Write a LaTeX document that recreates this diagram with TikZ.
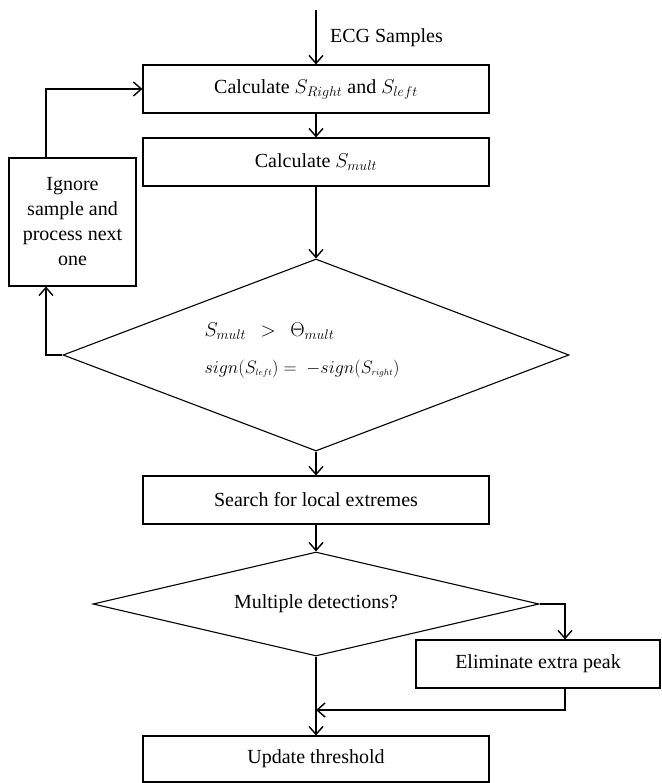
\documentclass[tikz,border=0pt]{standalone}
\usepackage{fix-cm}
\usepackage{fontspec}
\setmainfont{Liberation Serif}
\usetikzlibrary{shapes.geometric,arrows.meta}

\begin{document}
\begin{tikzpicture}[x=1pt,y=-1pt,
    font=\fontsize{20}{25}\selectfont,
    box/.style={draw,line width=1.1pt,minimum width=346pt,minimum height=48pt,inner sep=0pt},
    decision/.style={draw,diamond,line width=1.1pt,inner sep=0pt},
    arr/.style={line width=1.4pt,-{Straight Barb[length=8pt,width=14pt]}}]
    \useasboundingbox (0,0) rectangle (661,783);
    \node[box] (calc) at (316,89) {Calculate $S_{Right}$ and $S_{left}$};
    \node[box] (mult) at (316,162) {Calculate $S_{mult}$};
    \node[box,minimum width=127pt,minimum height=128pt,align=center] (ignore) at (72.5,222)
      {Ignore\\sample and\\process next\\one};
    \node[decision,shape aspect=2.64,minimum width=506pt,minimum height=192pt] (check) at (316,355) {};
    \node[align=left] (cond) at ([xshift=-14pt,yshift=5pt]check.center)
      {$S_{mult}\;\,>\;\,\Theta_{mult}$\\[12pt]
       {\fontsize{18}{22}\selectfont $sign(S_{\scriptscriptstyle left}) =\; -sign(S_{\scriptscriptstyle right})$}};
    \node[box] (search) at (316,500) {Search for local extremes};
    \node[decision,shape aspect=4.3,minimum width=446pt,minimum height=104pt] (multi) at (316,604) {Multiple detections?};
    \node[box,minimum width=244pt] (elim) at (538,664) {Eliminate extra peak};
    \node[box,minimum height=46pt] (update) at (316,759) {Update threshold};
    \coordinate (in) at (316,10);
    \coordinate (join) at (316,710);
    % main flow
    \draw[arr] (in) -- (calc) node[midway,right,xshift=10pt]{ECG Samples};
    \draw[arr] (calc) -- (mult);
    \draw[arr] (mult) -- (check);
    \draw[arr] (check) -- (search);
    \draw[arr] (search) -- (multi);
    \draw[arr] (multi) -- (update);
    % loop back
    \draw[arr] (check.west) -| ([xshift=-26.5pt]ignore.south);
    \draw[arr] ([xshift=-26.5pt]ignore.north) |- (calc.west);
    % extra peak
    \draw[arr] (multi.east) -| ([xshift=27pt]elim.north);
    \draw[arr] ([xshift=27pt]elim.south) |- (join);
\end{tikzpicture}
\end{document}
